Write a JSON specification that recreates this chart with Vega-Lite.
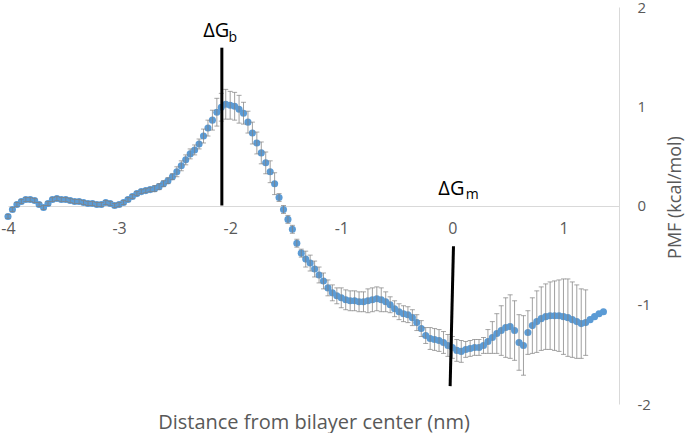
{
  "$schema": "https://vega.github.io/schema/vega-lite/v6.json",
  "width": 611,
  "height": 397,
  "autosize": "none",
  "padding": {"left": 8, "top": 7, "right": 66, "bottom": 29},
  "background": "white",
  "config": {"view": {"stroke": null}, "font": "Open Sans"},
  "datasets": {
    "pmf": [
      {"x": -4.00, "y": -0.11, "e": 0.02}, {"x": -3.96, "y": -0.04, "e": 0.02}, {"x": -3.92, "y": 0.01, "e": 0.02},
      {"x": -3.88, "y": 0.04, "e": 0.02}, {"x": -3.84, "y": 0.06, "e": 0.02}, {"x": -3.80, "y": 0.06, "e": 0.02},
      {"x": -3.76, "y": 0.05, "e": 0.02}, {"x": -3.72, "y": 0.01, "e": 0.02}, {"x": -3.68, "y": -0.02, "e": 0.02},
      {"x": -3.64, "y": 0.02, "e": 0.02}, {"x": -3.60, "y": 0.06, "e": 0.02}, {"x": -3.56, "y": 0.07, "e": 0.02},
      {"x": -3.52, "y": 0.06, "e": 0.02}, {"x": -3.48, "y": 0.06, "e": 0.02}, {"x": -3.44, "y": 0.05, "e": 0.02},
      {"x": -3.40, "y": 0.04, "e": 0.02}, {"x": -3.36, "y": 0.04, "e": 0.02}, {"x": -3.32, "y": 0.03, "e": 0.02},
      {"x": -3.28, "y": 0.02, "e": 0.02}, {"x": -3.24, "y": 0.02, "e": 0.02}, {"x": -3.20, "y": 0.01, "e": 0.02},
      {"x": -3.16, "y": 0.01, "e": 0.02}, {"x": -3.12, "y": 0.03, "e": 0.02}, {"x": -3.08, "y": 0.02, "e": 0.02},
      {"x": -3.04, "y": 0.00, "e": 0.02}, {"x": -3.00, "y": 0.01, "e": 0.02}, {"x": -2.96, "y": 0.03, "e": 0.02},
      {"x": -2.92, "y": 0.06, "e": 0.02}, {"x": -2.88, "y": 0.09, "e": 0.02}, {"x": -2.84, "y": 0.12, "e": 0.02},
      {"x": -2.80, "y": 0.14, "e": 0.02}, {"x": -2.76, "y": 0.15, "e": 0.02}, {"x": -2.72, "y": 0.16, "e": 0.02},
      {"x": -2.68, "y": 0.17, "e": 0.03}, {"x": -2.64, "y": 0.19, "e": 0.03}, {"x": -2.60, "y": 0.22, "e": 0.03},
      {"x": -2.56, "y": 0.25, "e": 0.03}, {"x": -2.52, "y": 0.29, "e": 0.03}, {"x": -2.48, "y": 0.34, "e": 0.05},
      {"x": -2.44, "y": 0.40, "e": 0.05}, {"x": -2.40, "y": 0.46, "e": 0.05}, {"x": -2.36, "y": 0.52, "e": 0.05},
      {"x": -2.32, "y": 0.56, "e": 0.05}, {"x": -2.28, "y": 0.62, "e": 0.05}, {"x": -2.24, "y": 0.70, "e": 0.07},
      {"x": -2.20, "y": 0.78, "e": 0.08}, {"x": -2.16, "y": 0.86, "e": 0.10}, {"x": -2.12, "y": 0.94, "e": 0.14},
      {"x": -2.08, "y": 0.99, "e": 0.14}, {"x": -2.04, "y": 1.02, "e": 0.15}, {"x": -2.00, "y": 1.01, "e": 0.14},
      {"x": -1.96, "y": 1.00, "e": 0.14}, {"x": -1.92, "y": 0.97, "e": 0.14}, {"x": -1.88, "y": 0.93, "e": 0.11},
      {"x": -1.84, "y": 0.84, "e": 0.11}, {"x": -1.80, "y": 0.73, "e": 0.11}, {"x": -1.76, "y": 0.63, "e": 0.11},
      {"x": -1.72, "y": 0.53, "e": 0.11}, {"x": -1.68, "y": 0.43, "e": 0.11}, {"x": -1.64, "y": 0.34, "e": 0.11},
      {"x": -1.60, "y": 0.22, "e": 0.11}, {"x": -1.56, "y": 0.08, "e": 0.04}, {"x": -1.52, "y": -0.04, "e": 0.04},
      {"x": -1.48, "y": -0.14, "e": 0.04}, {"x": -1.44, "y": -0.24, "e": 0.04}, {"x": -1.40, "y": -0.38, "e": 0.04},
      {"x": -1.36, "y": -0.48, "e": 0.04}, {"x": -1.32, "y": -0.54, "e": 0.08}, {"x": -1.28, "y": -0.58, "e": 0.08},
      {"x": -1.24, "y": -0.64, "e": 0.08}, {"x": -1.20, "y": -0.70, "e": 0.08}, {"x": -1.16, "y": -0.76, "e": 0.08},
      {"x": -1.12, "y": -0.83, "e": 0.08}, {"x": -1.08, "y": -0.88, "e": 0.08}, {"x": -1.04, "y": -0.91, "e": 0.08},
      {"x": -1.00, "y": -0.93, "e": 0.10}, {"x": -0.96, "y": -0.95, "e": 0.10}, {"x": -0.92, "y": -0.96, "e": 0.10},
      {"x": -0.88, "y": -0.96, "e": 0.10}, {"x": -0.84, "y": -0.97, "e": 0.10}, {"x": -0.80, "y": -0.97, "e": 0.10},
      {"x": -0.76, "y": -0.96, "e": 0.12}, {"x": -0.72, "y": -0.95, "e": 0.12}, {"x": -0.68, "y": -0.94, "e": 0.12},
      {"x": -0.64, "y": -0.95, "e": 0.12}, {"x": -0.60, "y": -0.97, "e": 0.10}, {"x": -0.56, "y": -1.00, "e": 0.08},
      {"x": -0.52, "y": -1.04, "e": 0.08}, {"x": -0.48, "y": -1.07, "e": 0.08}, {"x": -0.44, "y": -1.09, "e": 0.08},
      {"x": -0.40, "y": -1.10, "e": 0.08}, {"x": -0.36, "y": -1.13, "e": 0.08}, {"x": -0.32, "y": -1.18, "e": 0.08},
      {"x": -0.28, "y": -1.24, "e": 0.08}, {"x": -0.24, "y": -1.31, "e": 0.08}, {"x": -0.20, "y": -1.34, "e": 0.11},
      {"x": -0.16, "y": -1.35, "e": 0.11}, {"x": -0.12, "y": -1.36, "e": 0.11}, {"x": -0.08, "y": -1.38, "e": 0.11},
      {"x": -0.04, "y": -1.41, "e": 0.11}, {"x": 0.00, "y": -1.43, "e": 0.11}, {"x": 0.04, "y": -1.46, "e": 0.11},
      {"x": 0.08, "y": -1.47, "e": 0.11}, {"x": 0.12, "y": -1.45, "e": 0.08}, {"x": 0.16, "y": -1.44, "e": 0.08},
      {"x": 0.20, "y": -1.43, "e": 0.08}, {"x": 0.24, "y": -1.43, "e": 0.08}, {"x": 0.28, "y": -1.41, "e": 0.08},
      {"x": 0.32, "y": -1.37, "e": 0.12}, {"x": 0.36, "y": -1.33, "e": 0.16}, {"x": 0.40, "y": -1.29, "e": 0.20},
      {"x": 0.44, "y": -1.26, "e": 0.25}, {"x": 0.48, "y": -1.23, "e": 0.30}, {"x": 0.52, "y": -1.22, "e": 0.32},
      {"x": 0.56, "y": -1.26, "e": 0.30}, {"x": 0.60, "y": -1.38, "e": 0.28}, {"x": 0.64, "y": -1.41, "e": 0.30},
      {"x": 0.68, "y": -1.28, "e": 0.22}, {"x": 0.72, "y": -1.21, "e": 0.28}, {"x": 0.76, "y": -1.17, "e": 0.31},
      {"x": 0.80, "y": -1.14, "e": 0.32}, {"x": 0.84, "y": -1.12, "e": 0.33}, {"x": 0.88, "y": -1.11, "e": 0.34},
      {"x": 0.92, "y": -1.11, "e": 0.35}, {"x": 0.96, "y": -1.11, "e": 0.36}, {"x": 1.00, "y": -1.12, "e": 0.38},
      {"x": 1.04, "y": -1.13, "e": 0.39}, {"x": 1.08, "y": -1.15, "e": 0.38}, {"x": 1.12, "y": -1.17, "e": 0.37},
      {"x": 1.16, "y": -1.19, "e": 0.35}, {"x": 1.20, "y": -1.18, "e": 0.33}, {"x": 1.24, "y": -1.15, "e": 0},
      {"x": 1.28, "y": -1.12, "e": 0}, {"x": 1.32, "y": -1.09, "e": 0}, {"x": 1.36, "y": -1.07, "e": 0}
    ],
    "lines": [
      {"x": -2.075, "x2": -2.075, "y": 1.59, "y2": 0.0},
      {"x": 0.01, "x2": -0.02, "y": -0.41, "y2": -1.82}
    ],
    "labels": [
      {"x": -2.243, "y": 1.70, "t": "ΔG"},
      {"x": -0.126, "y": 0.11, "t": "ΔG"}
    ],
    "subs": [
      {"x": -2.015, "y": 1.65, "t": "b"},
      {"x": 0.12, "y": 0.07, "t": "m"}
    ]
  },
  "layer": [
    {
      "data": {"name": "pmf"},
      "mark": {"type": "circle", "color": "#5B9BD5", "opacity": 1, "size": 50},
      "encoding": {
        "x": {"field": "x", "type": "quantitative", "title": "Distance from bilayer center (nm)",
          "scale": {"domain": [-4, 1.5], "nice": false, "zero": false},
          "axis": {"orient": "bottom", "offset": -198, "values": [-4, -3, -2, -1, 0, 1], "grid": false, "ticks": false,
            "labelExpr": "'' + datum.value", "labelFlush": false,
            "domainColor": "#d9d9d9", "domainWidth": 1, "labelColor": "#595959", "labelFontSize": 16, "labelPadding": 14,
            "labelFont": "Open Sans", "titleFont": "Open Sans", "titleFontSize": 20,
            "titleFontWeight": "normal", "titleColor": "#595959", "titleY": 222, "titleBaseline": "alphabetic"}},
        "y": {"field": "y", "type": "quantitative", "title": "PMF (kcal/mol)",
          "scale": {"domain": [-2, 2], "nice": false, "zero": false},
          "axis": {"orient": "right", "values": [-2, -1, 0, 1, 2], "grid": false, "ticks": false,
            "labelExpr": "'' + datum.value", "labelFlush": false,
            "domainColor": "#d9d9d9", "domainWidth": 1, "labelColor": "#595959", "labelFontSize": 15, "labelPadding": 18,
            "labelAlign": "left", "labelFont": "Open Sans", "titleFont": "Open Sans", "titleFontSize": 18,
            "titleFontWeight": "normal", "titleColor": "#595959", "titleAngle": 270, "titleX": 56, "titleY": 190,
            "titleAlign": "center", "titleBaseline": "middle"}}
      }
    },
    {
      "data": {"name": "pmf"},
      "transform": [{"filter": "datum.e > 0"}],
      "mark": {"type": "errorbar", "ticks": {"size": 5, "color": "#808080", "strokeWidth": 0.75}, "rule": {"color": "#808080", "strokeWidth": 0.75}},
      "encoding": {
        "x": {"field": "x", "type": "quantitative", "title": "Distance from bilayer center (nm)"},
        "y": {"field": "y", "type": "quantitative", "title": "PMF (kcal/mol)"},
        "yError": {"field": "e"}
      }
    },
    {
      "data": {"name": "lines"},
      "mark": {"type": "rule", "color": "black", "strokeWidth": 3},
      "encoding": {
        "x": {"field": "x", "type": "quantitative", "title": "Distance from bilayer center (nm)"},
        "x2": {"field": "x2"},
        "y": {"field": "y", "type": "quantitative", "title": "PMF (kcal/mol)"},
        "y2": {"field": "y2"}
      }
    },
    {
      "data": {"name": "labels"},
      "mark": {"type": "text", "align": "left", "baseline": "alphabetic", "fontSize": 20, "font": "Open Sans", "color": "black"},
      "encoding": {
        "x": {"field": "x", "type": "quantitative", "title": "Distance from bilayer center (nm)"},
        "y": {"field": "y", "type": "quantitative", "title": "PMF (kcal/mol)"},
        "text": {"field": "t"}
      }
    },
    {
      "data": {"name": "subs"},
      "mark": {"type": "text", "align": "left", "baseline": "alphabetic", "fontSize": 14, "font": "Open Sans", "color": "black"},
      "encoding": {
        "x": {"field": "x", "type": "quantitative", "title": "Distance from bilayer center (nm)"},
        "y": {"field": "y", "type": "quantitative", "title": "PMF (kcal/mol)"},
        "text": {"field": "t"}
      }
    }
  ]
}
